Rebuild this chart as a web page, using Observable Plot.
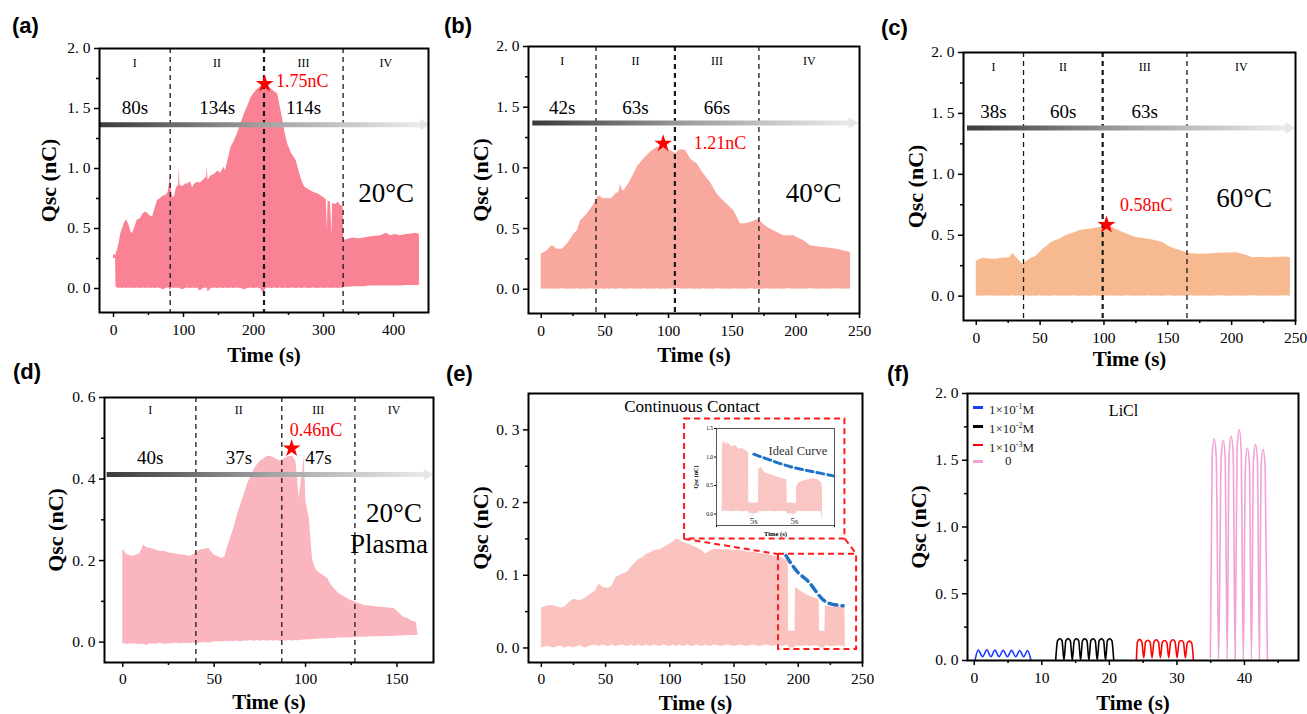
<!DOCTYPE html>
<html><head><meta charset="utf-8">
<script src="https://cdn.jsdelivr.net/npm/d3@7"></script>
<script src="https://cdn.jsdelivr.net/npm/@observablehq/plot@0.6"></script>
<style>
body{margin:0;background:#fff;}
#fig{position:relative;width:1307px;height:714px;overflow:hidden;background:#fff;}
#fig svg text{font-family:"Liberation Serif","Times New Roman",serif;}
.plabel{position:absolute;font-family:"Liberation Sans",Arial,sans-serif;font-weight:bold;font-size:22px;line-height:22px;color:#000;}
.legend{position:absolute;font-family:"Liberation Serif","Times New Roman",serif;font-size:13px;color:#222;}
.legend .row{position:absolute;left:0;height:16px;white-space:nowrap;}
.legend .sw{position:absolute;left:0;top:7px;width:10px;height:2.5px;}
.legend .tx{position:absolute;left:16px;top:0;line-height:16px;}
.legend sup{font-size:8px;vertical-align:5px;}
</style></head>
<body><div id="fig"></div>
<script>
// ---------------- DATA ----------------
const romans = ["I", "II", "III", "IV"];

// (a) 20°C : [time, lower, upper]
const aTrace = [[0,0.25,0.28],[3,0.25,0.28],[3.5,0.01,0.28],[6,0.005,0.33],[8,0,0.38],[10.4,0.005,0.457],[13,0,0.5],[16,0.005,0.55],[19,0,0.573],[22,0.005,0.53],[25,0,0.47],[27,0.005,0.457],[30,0,0.5],[34,0.005,0.57],[38,0,0.58],[42,0.005,0.62],[46,0,0.637],[50,0.005,0.62],[53,0,0.6],[56,0.005,0.6],[60,0,0.68],[63,0.005,0.734],[67,0,0.75],[71,-0.01,0.77],[75,0,0.775],[78,0.005,0.8],[80,0,0.88],[81,-0.02,0.956],[82.5,0,0.82],[85,0.005,0.76],[87,0,0.76],[90,0.005,0.84],[93,0,0.86],[94,0.005,1.01],[95,0,0.86],[99,-0.01,0.85],[103,0,0.87],[106,0.005,0.87],[110,0,0.89],[113,0.005,0.84],[116,0,0.87],[120,0.005,0.886],[124,-0.02,0.88],[128,0,0.9],[133,0.005,0.93],[134,0,1.01],[135,-0.03,0.9],[139.5,0,0.94],[144,0.005,0.95],[149,0,0.98],[153,0.005,0.96],[158,0,1.01],[160,0.005,0.98],[164,0,1.08],[168,0.005,1.18],[172,0,1.22],[177,0.005,1.29],[182,0,1.37],[187,-0.01,1.455],[192,0,1.52],[196.5,0.005,1.59],[201,0,1.63],[206,0.005,1.66],[210,0,1.68],[214,-0.04,1.69],[218,0,1.7],[222,0.005,1.68],[226,0,1.66],[230,0.005,1.64],[234.6,0,1.62],[238,0.005,1.52],[242,0,1.4],[245,0.005,1.3],[249,0,1.2],[255,0.005,1.12],[261,0,1.066],[265,0.005,0.98],[269,0,0.9],[273,0.005,0.845],[280,0,0.82],[286,0.005,0.8],[292,0,0.79],[297,0.005,0.77],[302,0,0.75],[304,0.005,0.74],[305.5,0,0.48],[306.5,0.005,0.73],[310,0,0.72],[312,0.005,0.44],[313,0,0.71],[318,0.005,0.7],[321,0,0.72],[325,0.005,0.69],[328,0,0.68],[329,0.01,0.4],[335,0.01,0.41],[342,0.015,0.42],[350,0.015,0.415],[358,0.015,0.42],[366,0.02,0.43],[374,0.02,0.435],[382,0.02,0.44],[390,0.02,0.46],[396,0.02,0.44],[402,0.02,0.45],[410,0.02,0.44],[418,0.025,0.45],[426,0.025,0.455],[432,0.025,0.46],[437,0.025,0.45]];
const aBounds = [81, 215, 328];
const aDurations = ["80s", "134s", "114s"];

// (b) 40°C
const bTrace = [[0,0,0.29],[2,0.002,0.3],[4.7,0,0.317],[6.5,0.003,0.34],[8.6,0,0.358],[10.5,0.002,0.345],[12.6,0,0.33],[16.5,0.003,0.33],[20.4,0,0.37],[23,0.002,0.41],[25.7,0,0.455],[28.3,0.003,0.48],[30.9,0,0.565],[33.5,0.002,0.59],[36.1,0,0.62],[38.8,0.003,0.66],[41.4,0,0.7],[43.3,0.002,0.74],[45.3,0,0.77],[47,0.003,0.76],[49.2,0,0.744],[52,0.002,0.75],[54.5,0,0.744],[56.5,0.003,0.76],[58.4,0,0.785],[61,0.002,0.8],[62.3,0.005,0.868],[63.5,0,0.82],[64.9,0.002,0.81],[67.5,0,0.85],[70.2,0.003,0.895],[72.8,0,0.95],[75.4,0.002,1.005],[78,0,1.04],[80.6,0.003,1.074],[83.2,0,1.1],[85.9,0.002,1.13],[88.5,0,1.15],[91.1,0.003,1.17],[93.7,0,1.16],[96.3,0.002,1.157],[99,0,1.15],[101.6,0.003,1.143],[103.5,0,1.13],[105.5,0.002,1.116],[108.1,0.005,1.143],[110.7,0,1.15],[113.4,0.002,1.143],[115.3,0,1.11],[117.3,0.003,1.074],[120,0,1.05],[122.5,0.002,1.033],[125,0,0.99],[127.7,0.003,0.95],[130.3,0,0.915],[133,0.002,0.88],[135.6,0,0.83],[138.2,0.003,0.785],[142,0,0.74],[146.1,0.002,0.7],[149,0,0.67],[151.3,0.003,0.647],[154,0,0.59],[156.5,0.002,0.537],[160.5,0,0.54],[164.4,0.003,0.55],[168,0,0.565],[170.9,0.002,0.578],[174,0,0.54],[177.5,0.003,0.51],[181,0,0.49],[185.3,0.002,0.468],[190.6,0,0.44],[194.5,0.003,0.44],[198.4,0,0.44],[202,0.002,0.42],[206.3,0,0.4],[211.5,0.003,0.358],[217,0,0.35],[222,0.002,0.344],[227,0,0.337],[232.5,0.003,0.33],[238,0,0.315],[243,0.002,0.303]];
const bBounds = [43, 105, 171];
const bDurations = ["42s", "63s", "66s"];

// (c) 60°C
const cTrace = [[0,0,0.283],[2.5,0.002,0.3],[5.2,0,0.31],[10,0.003,0.305],[15.7,0,0.302],[20,0.002,0.31],[26.1,0,0.316],[28.7,0.003,0.35],[30.5,0,0.33],[32.6,0.002,0.302],[36.6,0,0.26],[39,0.003,0.28],[41.8,0,0.302],[44.5,0.002,0.315],[47,0,0.33],[49.5,0.003,0.355],[52.2,0,0.385],[55.5,0.002,0.41],[58.7,0,0.44],[62,0.003,0.455],[65.3,0,0.467],[69,0.002,0.49],[73.1,0,0.508],[77,0.003,0.52],[80.9,0,0.536],[85,0.002,0.545],[88.8,0,0.55],[92.5,0.003,0.556],[96.6,0,0.563],[99,0.002,0.57],[101.8,0,0.585],[104.5,0.003,0.575],[107,0,0.563],[111,0.002,0.54],[114.9,0,0.522],[118.8,0.003,0.505],[122.7,0,0.489],[126.6,0.002,0.48],[130.5,0,0.475],[134.5,0.003,0.467],[138.4,0,0.46],[142.3,0.002,0.45],[146.2,0,0.44],[151.4,0.003,0.404],[155.4,0,0.39],[159.3,0.002,0.376],[163.2,0,0.362],[167.1,0.003,0.349],[172,0,0.345],[177.5,0.002,0.343],[184,0,0.348],[190.6,0.003,0.352],[197,0,0.355],[203.7,0.002,0.357],[210,0,0.34],[216.7,0.003,0.316],[223,0,0.318],[229.8,0.002,0.316],[236,0,0.32],[242,0.003,0.322],[246,0,0.315]];
const cBounds = [37, 99, 165];
const cDurations = ["38s", "60s", "63s"];

// (d) 20°C Plasma
const dTrace = [[0,-0.004,0.226],[0.5,-0.004,0.226],[2.2,-0.005,0.214],[5.9,-0.004,0.21],[9.5,-0.006,0.218],[11.4,-0.005,0.238],[13,-0.008,0.232],[15,-0.004,0.23],[18,-0.005,0.226],[20.5,-0.003,0.222],[23,-0.005,0.222],[26,-0.004,0.218],[29,-0.003,0.216],[31.5,-0.004,0.214],[34,-0.003,0.213],[37,-0.004,0.21],[39.7,-0.002,0.218],[42.5,-0.003,0.226],[45,-0.001,0.228],[47.1,-0.002,0.23],[49.8,0,0.214],[52,0.001,0.21],[54.4,0,0.205],[56,0.002,0.21],[57.1,0,0.23],[59,0.002,0.255],[60.8,0.001,0.28],[62.6,0.003,0.31],[64.5,0.001,0.337],[66.3,0.003,0.36],[68.1,0.002,0.386],[70,0.004,0.405],[71.8,0.002,0.423],[73.6,0.004,0.435],[75.5,0.002,0.444],[77.3,0.004,0.45],[79.1,0.002,0.456],[81,0.004,0.455],[82.8,0.002,0.452],[84.6,0.004,0.448],[86.4,0.002,0.444],[88,0.004,0.448],[89.2,0.002,0.452],[91,0.004,0.455],[92.9,0.003,0.456],[94.7,0.004,0.444],[95.6,0.003,0.4],[96.5,0.004,0.353],[97.4,0.004,0.386],[98.5,0.005,0.42],[99.3,0.005,0.456],[100.2,0.005,0.345],[102,0.006,0.304],[103,0.006,0.25],[103.8,0.006,0.205],[105,0.007,0.185],[106.6,0.007,0.173],[109,0.008,0.165],[112.1,0.008,0.156],[114,0.009,0.14],[115.8,0.009,0.131],[118,0.01,0.12],[121.2,0.01,0.111],[124,0.011,0.104],[126.7,0.011,0.099],[129,0.012,0.095],[132.2,0.012,0.09],[136,0.013,0.088],[139.6,0.013,0.086],[144,0.014,0.084],[148.7,0.014,0.082],[150.5,0.015,0.075],[152.4,0.015,0.066],[154,0.015,0.06],[156,0.016,0.058],[158,0.016,0.052],[160.6,0.016,0.049],[161.5,0.016,0.02]];
const dBounds = [40, 87, 127];
const dDurations = ["40s", "37s", "47s"];

// (e) Continuous Contact
const eTrace = [[0,0,0.055],[5,0.002,0.058],[10,0,0.058],[15,0.003,0.055],[18,0,0.056],[22,0.002,0.063],[25,0,0.067],[30,0.003,0.065],[34,0,0.068],[37,0.002,0.072],[42,0.004,0.078],[45,0.002,0.088],[48,0.004,0.083],[52,0.002,0.082],[55,0.004,0.085],[58,0.002,0.097],[63,0.004,0.1015],[67,0.002,0.104],[70,0.004,0.111],[73,0.002,0.117],[76,0.004,0.122],[79,0.002,0.124],[82,0.004,0.129],[85,0.002,0.131],[88,0.004,0.134],[92,0.002,0.135],[95,0.004,0.138],[100,0.002,0.143],[103,0.004,0.146],[105,0.002,0.15],[108,0.004,0.148],[110,0.002,0.145],[114,0.004,0.143],[117,0.002,0.141],[121,0.004,0.138],[125,0.002,0.134],[128,0.004,0.129],[131,0.002,0.133],[135,0.004,0.136],[140,0.002,0.135],[145,0.004,0.135],[150,0.002,0.134],[155,0.004,0.134],[160,0.002,0.132],[165,0.004,0.1315],[170,0.002,0.13],[175,0.004,0.129],[180,0.002,0.127],[184,0.004,0.1255],[188,0.002,0.123],[192.2,0.004,0.12],[192.5,0,0.023],[197.5,0,0.023],[197.8,0.003,0.083],[202,0.002,0.078],[206,0.003,0.074],[210,0.002,0.07],[214,0.003,0.068],[216.3,0.002,0.066],[216.6,0,0.023],[220.8,0,0.023],[221.1,0.003,0.058],[226,0.002,0.056],[231,0.003,0.057],[236.3,0.002,0.055],[236.6,-0.009,0.02]];
const eIdeal = [[190.4,0.127],[199.7,0.104],[207.5,0.092],[215.4,0.074],[223.2,0.062],[235,0.058]];
// inset of (e): [index, lower, upper]
const insetTrace = [[4.8,0.04,0.04],[5,0.04,1.2],[6,0.05,1.28],[8,0.05,1.22],[10,0.05,1.25],[13,0.04,1.18],[16,0.05,1.2],[19,0.05,1.14],[22,0.04,1.15],[25,0.05,1.1],[27.2,0.05,1.08],[27.4,0.02,0.2],[31,0,0.19],[35.6,0.02,0.2],[35.8,0.04,0.78],[38,0.05,0.82],[41,0.04,0.72],[45,0.05,0.7],[50,0.04,0.66],[55,0.05,0.63],[59.7,0.04,0.6],[59.9,0,0.19],[63,0,0.2],[67.6,0,0.18],[67.8,0.04,0.48],[70,0.05,0.55],[74,0.04,0.58],[78,0.05,0.6],[82,0.04,0.62],[86,0.05,0.6],[89,0.04,0.55],[89.6,-0.1,0.5],[90,-0.1,-0.05]];
const insetIdeal = [[31.6,1.05],[45,0.95],[62.7,0.83],[80,0.75],[99,0.67]];
const insetGaps = [["5s",31.6],["5s",66.1]];

// (f) LiCl concentrations
const fNames = ["1×10-1M", "1×10-2M", "1×10-3M", "0"];
const fColors = ["#1a3cff", "#000000", "#ff0000", "#f2a2d6"];
const fBlue = [[0.1,0],[0.59,0.078],[1.23,0.028],[1.87,0.08],[2.46,0.028],[3.05,0.078],[3.67,0.028],[4.28,0.077],[4.9,0.028],[5.52,0.076],[6.13,0.028],[6.74,0.075],[7.31,0.028],[7.88,0.074],[8.4,0]];
const fBlack = [[12.05,0],[12.33,0.148],[12.66,0.163],[12.99,0.148],[13.28,0.004],[13.56,0.148],[13.89,0.164],[14.22,0.148],[14.51,0.004],[14.8,0.148],[15.13,0.163],[15.46,0.148],[15.74,0.004],[16.02,0.148],[16.35,0.162],[16.68,0.148],[16.97,0.004],[17.25,0.148],[17.58,0.163],[17.91,0.148],[18.2,0.004],[18.49,0.148],[18.82,0.162],[19.15,0.148],[19.43,0.004],[19.71,0.148],[20.04,0.163],[20.37,0.148],[20.65,0]];
const fRed = [[24.0,0],[24.15,0.14],[24.48,0.158],[24.81,0.14],[25.09,0.02],[25.37,0.14],[25.7,0.152],[26.03,0.137],[26.32,0.02],[26.61,0.14],[26.94,0.155],[27.27,0.14],[27.55,0.02],[27.84,0.136],[28.17,0.15],[28.5,0.136],[28.79,0.02],[29.07,0.14],[29.4,0.155],[29.73,0.14],[30.02,0.02],[30.31,0.136],[30.64,0.15],[30.97,0.136],[31.25,0.02],[31.53,0.132],[31.86,0.145],[32.19,0.13],[32.45,0]];
const fPink = [[34.95,0.02],[35.22,1.53],[35.52,1.66],[35.82,1.53],[36.18,0.01],[36.55,1.52],[36.85,1.65],[37.15,1.52],[37.44,0.01],[37.73,1.55],[38.03,1.68],[38.33,1.55],[38.62,0.01],[38.91,1.59],[39.21,1.73],[39.51,1.59],[39.82,0],[40.14,1.46],[40.44,1.59],[40.74,1.46],[41.03,0.01],[41.33,1.49],[41.63,1.62],[41.93,1.49],[42.2,0],[42.46,1.45],[42.76,1.58],[43.06,1.45],[43.4,0]];
const fSeries = [fBlue, fBlack, fRed, fPink];

// ---------------- DRAWING ----------------
const SERIF = "Liberation Serif";
const fig = document.getElementById("fig");
function place(el, left, top) {
  el.style.position = "absolute";
  el.style.left = left + "px";
  el.style.top = top + "px";
  fig.appendChild(el);
}
function label(txt, left, top) {
  const d = document.createElement("div");
  d.className = "plabel"; d.textContent = txt;
  d.style.left = left + "px"; d.style.top = top + "px";
  fig.appendChild(d);
}
const fmtY = d => d.toFixed(1).replace(".", ". ");
const T = {fontFamily: SERIF};

function frameAndAxes(p) {
  return [
    Plot.frame({stroke: "#000", strokeWidth: 2}),
    Plot.axisX({ticks: p.xMajor, tickSize: 5, tickPadding: p.xPad, strokeWidth: 1.5, label: null, tickFormat: d => String(d), fontSize: 15.5, ...T}),
    Plot.axisX({ticks: p.xMinor, tickSize: 3, strokeWidth: 1.5, label: null, tickFormat: () => ""}),
    Plot.axisY({ticks: p.yMajor, tickSize: 5, tickPadding: 4, strokeWidth: 1.5, label: null, tickFormat: fmtY, fontSize: 15.5, ...T}),
    Plot.axisY({ticks: p.yMinor, tickSize: 3, strokeWidth: 1.5, label: null, tickFormat: () => ""}),
    Plot.text(["Time (s)"], {text: d => d, frameAnchor: "bottom", dy: p.xLabelDy, lineAnchor: "middle", textAnchor: "middle", fontSize: 21, fontWeight: "bold", ...T}),
    Plot.text(["Qsc (nC)"], {text: d => d, frameAnchor: "left", dx: p.yLabelDx, rotate: -90, textAnchor: "middle", lineAnchor: "middle", fontSize: 22, fontWeight: "bold", ...T})
  ];
}

function buildPanel(p) {
  const marks = [];
  marks.push(Plot.areaY(p.trace, {x: d => d[0], y1: d => d[1], y2: d => d[2], fill: p.color}));
  if (p.bounds) {
    const edges = [p.xd[0], ...p.bounds, p.xd[1]];
    const centers = romans.map((_, i) => (edges[i] + edges[i + 1]) / 2);
    marks.push(Plot.ruleX(p.bounds, {x: d => d, stroke: "#1a1a1a", strokeWidth: (d, i) => (i === p.boldIndex ? 2.2 : 1.3), strokeDasharray: "5,4"}));
    marks.push(Plot.link([p.arrow], {x1: d => d[0], x2: d => d[1], y1: () => p.arrowY, y2: () => p.arrowY, stroke: `url(#${p.id}-grad)`, strokeWidth: 5}));
    marks.push(Plot.dot([p.arrow], {x: d => d[1], y: () => p.arrowY, symbol: "triangle", rotate: 90, r: 4.2, fill: "#e6e6e6", stroke: "none"}));
    marks.push(Plot.text(romans, {x: (d, i) => centers[i], y: () => p.romanY, text: d => d, fontSize: 12, ...T}));
    marks.push(Plot.text(p.durations, {x: (d, i) => centers[i], y: () => p.durY, text: d => d, fontSize: 19, ...T}));
    marks.push(Plot.dot([p.peak], {x: d => d[0], y: d => d[1], symbol: "star", r: 5.6, fill: "#ff0000", stroke: "none"}));
    marks.push(Plot.text([p.peakLabel], {x: () => p.peakLabelAt[0], y: () => p.peakLabelAt[1], text: d => d, fill: "#ff0000", fontSize: 18, textAnchor: "start", ...T}));
    marks.push(Plot.text(p.temps, {x: d => d[1], y: d => d[2], text: d => d[0], fontSize: 27, ...T}));
  }
  if (p.extra) marks.push(...p.extra);
  marks.push(...frameAndAxes(p));
  const svg = Plot.plot({
    width: p.w, height: p.h,
    marginLeft: p.m[0], marginRight: p.m[1], marginTop: p.m[2], marginBottom: p.m[3],
    x: {domain: p.xd}, y: {domain: p.yd},
    style: {fontFamily: SERIF, fontSize: "15px", background: "transparent", overflow: "visible", color: "#000"},
    marks
  });
  if (p.arrow) {
    const sx = svg.scale("x");
    const gx1 = sx.apply(p.arrow[0]), gx2 = sx.apply(p.arrow[1]);
    const defs = document.createElementNS("http://www.w3.org/2000/svg", "defs");
    defs.innerHTML = `<linearGradient id="${p.id}-grad" gradientUnits="userSpaceOnUse" x1="${gx1}" y1="0" x2="${gx2}" y2="0"><stop offset="0" stop-color="#3a3a3a"/><stop offset="0.5" stop-color="#a0a0a0"/><stop offset="1" stop-color="#ececec"/></linearGradient>`;
    svg.insertBefore(defs, svg.firstChild);
  }
  place(svg, p.left, p.top);
  return svg;
}

const ticks250 = {xMajor: [0, 50, 100, 150, 200, 250], xMinor: [25, 75, 125, 175, 225]};
const ticksY2 = {yMajor: [0, 0.5, 1, 1.5, 2], yMinor: [0.25, 0.75, 1.25, 1.75]};

// (a)
buildPanel({id: "a", left: 0, top: 0, w: 440, h: 370, m: [99, 12, 48, 58],
  xd: [-20, 450], yd: [-0.2, 2.0], trace: aTrace, color: "#fa8295",
  bounds: aBounds, boldIndex: 1, durations: aDurations,
  arrow: [-20, 443], arrowY: 1.365, romanY: 1.88, durY: 1.505,
  peak: [216, 1.705], peakLabel: "1.75nC", peakLabelAt: [232, 1.726],
  temps: [["20°C", 389.6, 0.792]],
  xMajor: [0, 100, 200, 300, 400], xMinor: [50, 150, 250, 350], ...ticksY2,
  xPad: 6, xLabelDy: 43, yLabelDx: -51});

// (b)
buildPanel({id: "b", left: 440, top: 0, w: 430, h: 370, m: [88, 11, 46, 57],
  xd: [-10, 250], yd: [-0.2, 2.0], trace: bTrace, color: "#f8a89f",
  bounds: bBounds, boldIndex: 1, durations: bDurations,
  arrow: [-7, 244], arrowY: 1.37, romanY: 1.88, durY: 1.498,
  peak: [95.8, 1.2], peakLabel: "1.21nC", peakLabelAt: [119.8, 1.2],
  temps: [["40°C", 214, 0.791]],
  ...ticks250, ...ticksY2, xPad: 6, xLabelDy: 42, yLabelDx: -48});

// (c)
buildPanel({id: "c", left: 870, top: 0, w: 437, h: 370, m: [93, 12, 52, 50],
  xd: [-10, 250], yd: [-0.2, 2.0], trace: cTrace, color: "#f7b990",
  bounds: cBounds, boldIndex: 1, durations: cDurations,
  arrow: [-7.3, 244.5], arrowY: 1.38, romanY: 1.88, durY: 1.511,
  peak: [102, 0.585], peakLabel: "0.58nC", peakLabelAt: [112.5, 0.75],
  temps: [["60°C", 209.8, 0.805]],
  ...ticks250, ...ticksY2, xPad: 6, xLabelDy: 39, yLabelDx: -48});

// (d)
buildPanel({id: "d", left: 0, top: 360, w: 440, h: 354, m: [104, 7, 37, 52],
  xd: [-10, 170], yd: [-0.05, 0.6], trace: dTrace, color: "#fbb5bf",
  bounds: dBounds, boldIndex: -1, durations: dDurations,
  arrow: [-8.8, 166.5], arrowY: 0.411, romanY: 0.569, durY: 0.452,
  peak: [92.4, 0.475], peakLabel: "0.46nC", peakLabelAt: [91.4, 0.52],
  temps: [["20°C", 148.4, 0.316], ["Plasma", 145.6, 0.239]],
  xMajor: [0, 50, 100, 150], xMinor: [25, 75, 125],
  yMajor: [0, 0.2, 0.4, 0.6], yMinor: [0.1, 0.3, 0.5],
  xPad: 5, xLabelDy: 40, yLabelDx: -49});

// (e)
const redDash = {fill: "none", stroke: "#ff1a1a", strokeWidth: 2, strokeDasharray: "6,4"};
buildPanel({id: "e", left: 440, top: 360, w: 430, h: 354, m: [88, 8, 33, 52],
  xd: [-10, 250], yd: [-0.02, 0.35], trace: eTrace, color: "#fac3c0",
  extra: [
    Plot.rect([[184.6, 245.4, -0.002, 0.129]], {x1: d => d[0], x2: d => d[1], y1: d => d[2], y2: d => d[3], ...redDash}),
    Plot.rect([[111.5, 236.3, 0.150, 0.315]], {x1: d => d[0], x2: d => d[1], y1: d => d[2], y2: d => d[3], ...redDash}),
    Plot.link([[111.5, 0.150, 184.6, 0.129], [236.3, 0.150, 245.4, 0.129]], {x1: d => d[0], y1: d => d[1], x2: d => d[2], y2: d => d[3], stroke: "#ff1a1a", strokeWidth: 2, strokeDasharray: "6,4"}),
    Plot.line(eIdeal, {x: d => d[0], y: d => d[1], stroke: "#1f72c4", strokeWidth: 3.5, strokeDasharray: "8,5", curve: "natural"}),
    Plot.text(["Continuous Contact"], {x: () => 117.3, y: () => 0.332, text: d => d, fontSize: 17, ...T})
  ],
  ...ticks250, yMajor: [0, 0.1, 0.2, 0.3], yMinor: [0.05, 0.15, 0.25],
  xPad: 5, xLabelDy: 41, yLabelDx: -48});

// inset of (e)
const inset = Plot.plot({
  width: 160, height: 130, marginLeft: 26, marginRight: 16, marginTop: 13, marginBottom: 20,
  x: {domain: [0, 100]}, y: {domain: [-0.2, 1.5]},
  style: {fontFamily: SERIF, fontSize: "5.5px", background: "transparent", overflow: "visible"},
  marks: [
    Plot.areaY(insetTrace, {x: d => d[0], y1: d => d[1], y2: d => d[2], fill: "#f9c6c3"}),
    Plot.line(insetIdeal, {x: d => d[0], y: d => d[1], stroke: "#1f72c4", strokeWidth: 3, strokeDasharray: "7,4", curve: "natural"}),
    Plot.text(["Ideal Curve"], {x: () => 69, y: () => 1.11, text: d => d, fontSize: 12.5, fill: "#333", ...T}),
    Plot.text(insetGaps, {x: d => d[1], y: () => -0.12, text: d => d[0], fontSize: 9, fill: "#333", ...T}),
    Plot.frame({stroke: "#555", strokeWidth: 1}),
    Plot.axisY({ticks: [0, 0.5, 1, 1.5], tickSize: 2, tickPadding: 1.5, label: null, tickFormat: d => d.toFixed(1), fontSize: 5.5, ...T}),
    Plot.axisX({ticks: [0, 100], tickSize: 2, label: null, tickFormat: () => ""}),
    Plot.text(["Time (s)"], {text: d => d, frameAnchor: "bottom", dy: 8, lineAnchor: "middle", textAnchor: "middle", fontSize: 6.5, fontWeight: "bold", ...T}),
    Plot.text(["Qsc (nC)"], {text: d => d, frameAnchor: "left", dx: -20, rotate: -90, textAnchor: "middle", lineAnchor: "middle", fontSize: 6, fontWeight: "bold", ...T})
  ]
});
place(inset, 690, 415);

// (f)
buildPanel({id: "f", left: 870, top: 360, w: 437, h: 354, m: [97, 9, 33, 54],
  xd: [-1, 48], yd: [0, 2.0], trace: [], color: "none",
  extra: [
    ...fSeries.map((s, i) => Plot.line(s, {x: d => d[0], y: d => d[1], stroke: fColors[i], strokeWidth: 1.6, curve: "monotone-x"})),
    Plot.text(["LiCl"], {x: () => 22.1, y: () => 1.867, text: d => d, fontSize: 16, ...T})
  ],
  xMajor: [0, 10, 20, 30, 40], xMinor: [5, 15, 25, 35, 45], ...ticksY2,
  xPad: 6, xLabelDy: 43, yLabelDx: -49});

// legend of (f)
const lg = document.createElement("div");
lg.className = "legend";
lg.style.left = "973px"; lg.style.top = "399px";
const rowTops = [0, 19, 37.5, 54];
fNames.forEach((n, i) => {
  const row = document.createElement("div");
  row.className = "row"; row.style.top = rowTops[i] + "px";
  const sw = document.createElement("div");
  sw.className = "sw"; sw.style.background = fColors[i];
  const tx = document.createElement("div");
  tx.className = "tx";
  if (n === "0") { tx.textContent = "0"; tx.style.left = "32px"; }
  else { const m = n.match(/^1×10(-\d)M$/); tx.innerHTML = "1×10<sup>" + m[1] + "</sup>M"; }
  row.appendChild(sw); row.appendChild(tx); lg.appendChild(row);
});
fig.appendChild(lg);

// panel letters
label("(a)", 12, 15); label("(b)", 444, 15); label("(c)", 881, 17);
label("(d)", 13, 361); label("(e)", 446, 363); label("(f)", 887, 363);
</script></body></html>
